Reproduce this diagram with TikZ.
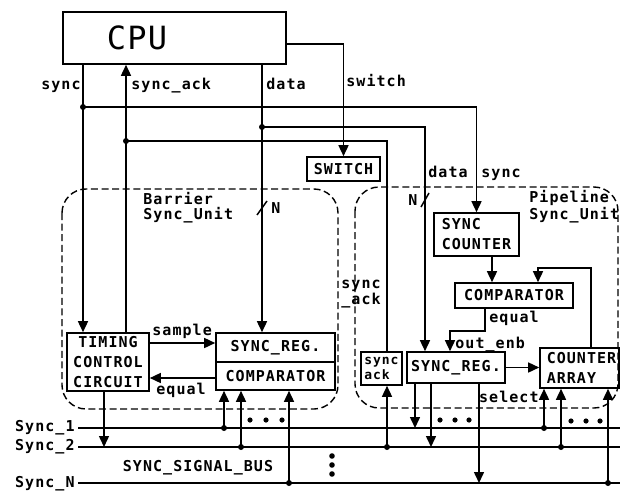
\documentclass[tikz,border=0pt]{standalone}
\usepackage{fontspec}
\newfontfamily\lblfont{DejaVu Sans Mono}[LetterSpace=7]
\newfontfamily\cpufont{DejaVu Sans Mono}[LetterSpace=4]
\usetikzlibrary{fit,arrows.meta}
\tikzset{
  lbl/.style={font=\lblfont\bfseries\fontsize{7.5}{7.5}\selectfont, inner sep=0pt},
  box/.style={draw, line width=0.8pt, inner sep=0pt},
  boxtxt/.style={inner sep=0pt, align=center, font=\lblfont\bfseries\fontsize{7.5}{10}\selectfont},
  wire/.style={line width=0.75pt},
  arr/.style={wire, -{Triangle[length=5.5pt,width=5pt]}},
  unitbox/.style={draw, line width=0.7pt, rounded corners=12pt, dash pattern=on 3.5pt off 1.8pt},
}
\begin{document}
\begin{tikzpicture}[x=0.5pt,y=-0.5pt]
\path[use as bounding box, fill=white] (0,0) rectangle (620,492);

% dashed units
\draw[unitbox] (62,189) rectangle (338,409);
\draw[unitbox] (355,187) rectangle (618,408);

% boxes
\node[box, fit={(63,12)(286,64)}] (cpu) {};
\node[font=\cpufont\fontsize{16}{16}\selectfont, inner sep=0pt] (cputxt) at (137,38) {CPU};
\node[box, fit={(307,157)(380,181)}] (sw) {};
\node[boxtxt] (swt) at (sw.center) {SWITCH};
\node[box, fit={(67,333)(149,391)}] (tcc) {};
\node[boxtxt] (tcct) at (tcc.center) {TIMING\\CONTROL\\CIRCUIT};
\node[box, fit={(216,333)(335,362)}] (bsr) {};
\node[boxtxt] (bsrt) at (bsr.center) {SYNC\_REG.};
\node[box, fit={(216,362)(335,390)}] (bcmp) {};
\node[boxtxt] (bcmpt) at (bcmp.center) {COMPARATOR};
\node[box, fit={(434,213)(519,256)}] (scnt) {};
\node[boxtxt, align=left] (scntt) at (scnt.center) {SYNC\\COUNTER};
\node[box, fit={(455,283)(573,308)}] (pcmp) {};
\node[boxtxt] (pcmpt) at (pcmp.center) {COMPARATOR};
\node[box, fit={(407,352)(505,383)}] (psr) {};
\node[boxtxt] (psrt) at (psr.center) {SYNC\_REG.};
\node[box, fit={(540,348)(619,388)}] (carr) {};
\node[boxtxt, align=left] (carrt) at ([xshift=1pt]carr.center) {COUNTER\\ARRAY};
\node[box, fit={(361,352)(402,385)}] (sack) {};
\node[boxtxt, align=left, font=\lblfont\bfseries\fontsize{6.5}{6}\selectfont] (sackt) at (sack.center) {sync\\ack};

% CPU connections
\coordinate (j1) at (83,107);
\coordinate (j2) at (262,127);
\coordinate (j3) at (126,141);
\coordinate (swy) at (0,44);
\coordinate (pdx) at (425,0);
\coordinate (sax) at (387,0);
\draw[arr] (cpu.south -| j1) -- (tcc.north -| j1);
\draw[arr] (tcc.north -| j3) -- (cpu.south -| j3);
\draw[arr] (cpu.south -| j2) -- (bsr.north -| j2);
\draw[arr] (cpu.east |- swy) -| (sw.north);
\draw[arr] (j1) -| (scnt.north);
\draw[arr] (j2) -| (psr.north -| pdx);
\draw[wire] (j3) -| (sack.north -| sax);
\foreach \p in {j1,j2,j3} \fill (\p) circle (1.5pt);

% labels near CPU
\node[lbl, anchor=base east] (lsync) at (81,90) {sync};
\node[lbl, anchor=base west] (lack) at (131,90) {sync\_ack};
\node[lbl, anchor=base west] (ldata) at (266,90) {data};
\node[lbl, anchor=base west] (lsw) at (346,87) {switch};
\node[lbl, anchor=base west] (ldata2) at (428,177) {data};
\node[lbl, anchor=base west] (lsync2) at (481,177) {sync};

% bus width marks
\draw[wire] (257,215) -- (267,201);
\node[lbl] (n1) at (276,208) {N};
\draw[wire] (421,207) -- (429,193);
\node[lbl] (n2) at (413,200) {N};

% unit labels
\node[lbl, anchor=north west, align=left] (lbar) at (143,192) {Barrier\\Sync\_Unit};
\node[lbl, anchor=north west, align=left] (lpip) at (529,190) {Pipeline\\Sync\_Unit};
\node[lbl, anchor=west, align=left, font=\lblfont\bfseries\fontsize{7.5}{5.5}\selectfont] (lsack) at (341,294) {sync\\\_ack};

% barrier internals
\coordinate (ys) at (0,343);
\coordinate (ye) at (0,378);
\draw[arr] (tcc.east |- ys) -- (bsr.west |- ys);
\draw[arr] (bcmp.west |- ye) -- (tcc.east |- ye);
\node[lbl, anchor=base west] (lsample) at (152,335) {sample};
\node[lbl, anchor=base west] (lequal) at (156,394) {equal};

% pipeline internals
\coordinate (c1) at (492,0);
\coordinate (fbr) at (591,268);
\coordinate (fbl) at (538,268);
\coordinate (e1) at (485,331);
\coordinate (e2) at (450,331);
\draw[arr] (scnt.south -| c1) -- (pcmp.north -| c1);
\draw[arr] (carr.north -| fbr) -- (fbr) -- (fbl) -- (pcmp.north -| fbl);
\draw[arr] (pcmp.south -| e1) -- (e1) -- (e2) -- (psr.north -| e2);
\draw[arr] (psr.east) -- (carr.west |- psr.east);
\node[lbl, anchor=base west] (lequal2) at (489,322) {equal};
\node[lbl, anchor=base west] (loe) at (455,348) {out\_enb};
\node[lbl, anchor=base east] (lsel) at (539,402) {select};

% sync signal bus
\coordinate (s1e) at (620,428);
\coordinate (s2e) at (620,447);
\coordinate (sne) at (620,483);
\node[lbl, anchor=east, inner xsep=1.5pt] (l1) at (78,428) {Sync\_1};
\node[lbl, anchor=east, inner xsep=1.5pt] (l2) at (78,447) {Sync\_2};
\node[lbl, anchor=east, inner xsep=1.5pt] (ln) at (78,484) {Sync\_N};
\draw[wire] (s1e -| l1.east) -- (s1e);
\draw[wire] (s2e -| l2.east) -- (s2e);
\draw[wire] (sne -| ln.east) -- (sne);
\node[lbl] (lbus) at (198,468) {SYNC\_SIGNAL\_BUS};

% taps
\coordinate (t1) at (224,428);
\coordinate (t2) at (241,447);
\coordinate (t3) at (289,483);
\coordinate (t4) at (104,447);
\coordinate (t5) at (387,447);
\coordinate (t6) at (415,428);
\coordinate (t7) at (431,447);
\coordinate (t8) at (479,483);
\coordinate (t9) at (544,428);
\coordinate (t10) at (561,447);
\coordinate (t11) at (608,483);
\draw[arr] (t1) -- (bcmp.south -| t1);
\draw[arr] (t2) -- (bcmp.south -| t2);
\draw[arr] (t3) -- (bcmp.south -| t3);
\draw[arr] (tcc.south -| t4) -- (t4);
\draw[arr] (t5) -- (sack.south -| t5);
\draw[arr] (psr.south -| t6) -- (t6);
\draw[arr] (psr.south -| t7) -- (t7);
\draw[arr] (psr.south -| t8) -- (t8);
\draw[arr] (t9) -- (carr.south -| t9);
\draw[arr] (t10) -- (carr.south -| t10);
\draw[arr] (t11) -- (carr.south -| t11);
\foreach \p in {t1,t2,t3,t5,t9,t10,t11} \fill (\p) circle (1.5pt);

% ellipses
\foreach \x in {250,266,282} \fill (\x,420) circle (1.3pt);
\foreach \x in {440,455,469} \fill (\x,420) circle (1.3pt);
\foreach \x in {571,586,600} \fill (\x,421) circle (1.3pt);
\foreach \y in {456,465,474} \fill (332,\y) circle (1.4pt);
\end{tikzpicture}
\end{document}
